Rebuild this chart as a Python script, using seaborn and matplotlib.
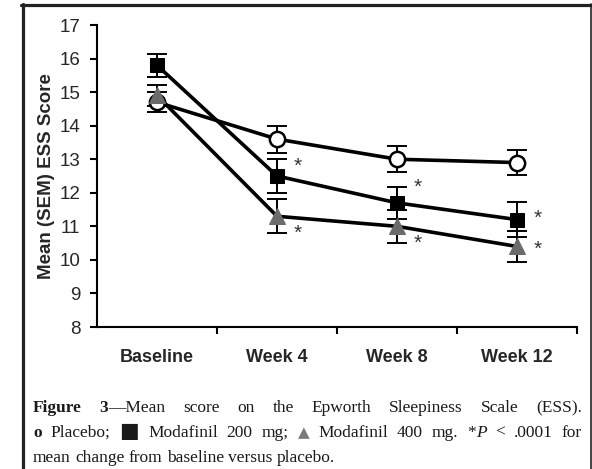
import matplotlib
matplotlib.use("Agg")
import matplotlib.pyplot as plt
import seaborn as sns
import pandas as pd
from matplotlib.lines import Line2D
from matplotlib.ticker import FixedLocator

# ---- data ----
visits = ["Baseline", "Week 4", "Week 8", "Week 12"]
placebo = [14.7, 13.6, 13.0, 12.9]
placebo_sem = [0.3, 0.4, 0.38, 0.37]
moda200 = [15.8, 12.5, 11.7, 11.2]
moda200_sem = [0.35, 0.5, 0.48, 0.52]
moda400 = [14.9, 11.3, 11.0, 10.4]
moda400_sem = [0.3, 0.5, 0.5, 0.45]
# significance stars (visits 1..3), y position of each star
star_y_200 = [12.78, 12.15, 11.25]
star_y_400 = [10.80, 10.48, 10.30]

pos = list(range(len(visits)))

sns.set_style("ticks")
plt.rcParams["font.family"] = ["Liberation Sans", "DejaVu Sans"]

fig = plt.figure(figsize=(5.92, 4.69), dpi=100)
ax = fig.add_axes([97 / 592, 1 - 327 / 469, 480 / 592, 302 / 469])

series = [
    (placebo, placebo_sem, dict(marker="o", markersize=11, markerfacecolor="white",
                                markeredgecolor="black", markeredgewidth=1.8)),
    (moda200, moda200_sem, dict(marker="s", markersize=10, markerfacecolor="black",
                                markeredgecolor="black")),
    (moda400, moda400_sem, dict(marker="^", markersize=12, markerfacecolor="#6b6b6b",
                                markeredgecolor="#6b6b6b")),
]

for vals, sem, mk in series:
    df = pd.DataFrame({"pos": pos, "score": vals})
    ax.errorbar(pos, vals, yerr=sem, fmt="none", ecolor="black", elinewidth=1.4,
                capsize=7, capthick=1.4, zorder=2)
    sns.lineplot(data=df, x="pos", y="score", ax=ax, color="black", linewidth=2.6,
                 zorder=3, **mk)

for i in range(3):
    ax.text(pos[i + 1] + 0.17, star_y_200[i], "*", fontsize=15, color="#333333",
            ha="center", va="center")
    ax.text(pos[i + 1] + 0.17, star_y_400[i], "*", fontsize=15, color="#333333",
            ha="center", va="center")

ax.set_xlim(-0.5, 3.5)
ax.set_ylim(8, 17)
ax.set_yticks(range(8, 18))
ax.set_xticks(pos)
ax.set_xticklabels(visits, fontsize=13, fontweight="bold")
ax.xaxis.set_minor_locator(FixedLocator([0.5, 1.5, 2.5, 3.5]))
ax.tick_params(axis="x", which="major", length=0, pad=16)
ax.tick_params(axis="x", which="minor", length=5, width=1.5, color="black")
ax.tick_params(axis="y", length=5, width=1.5, color="black", labelsize=13.5, pad=7)
ax.set_xlabel("")
ax.set_ylabel("Mean (SEM) ESS Score", fontsize=13.5, fontweight="bold", labelpad=3)
for s in ["left", "bottom"]:
    ax.spines[s].set_linewidth(1.5)
    ax.spines[s].set_color("black")
sns.despine(ax=ax)

# ---- frame around figure + caption ----
fc = "#222222"
fig.add_artist(Line2D([22.5 / 592] * 2, [0, 1 - 4.5 / 469], transform=fig.transFigure,
                      color=fc, linewidth=2.3))
fig.add_artist(Line2D([21 / 592, 591 / 592], [1 - 5.5 / 469] * 2, transform=fig.transFigure,
                      color=fc, linewidth=2.3))
fig.add_artist(Line2D([590.5 / 592] * 2, [0, 1 - 4.5 / 469], transform=fig.transFigure,
                      color=fc, linewidth=1.2))

serif = ["Liberation Serif", "DejaVu Serif"]
cap_size = 12.5
base = dict(fontsize=cap_size, family=serif, color="#1a1a1a", va="baseline")
bold = dict(base, fontweight="bold")
ital = dict(base, style="italic")
grey = dict(base, color="#7a7a7a", family=["DejaVu Sans"], fontsize=11)
sq = dict(base, family=["DejaVu Sans"], fontsize=15)

line1 = [[("Figure", bold)], [("3", bold), ("\u2014Mean", base)]] + \
    [[(w, base)] for w in "score on the Epworth Sleepiness Scale (ESS).".split()]
line2 = [[("o", bold)], [("Placebo;", base)], [("\u25A0", sq)], [("Modafinil", base)],
         [("200", base)], [("mg;", base)], [("\u25B2", grey)], [("Modafinil", base)],
         [("400", base)], [("mg.", base)], [("*", base), ("P", ital)], [("<", base)],
         [(".0001", base)], [("for", base)]]
line3 = [[(w, base)] for w in "mean change from baseline versus placebo.".split()]

fig.canvas.draw()
renderer = fig.canvas.get_renderer()


def seg_width(s, kw):
    t = fig.text(0, 0, s, **kw)
    w = t.get_window_extent(renderer).width
    t.remove()
    return w


def place_line(words, y_px, x0=33, x1=582, justify=True):
    widths = [[seg_width(s, kw) for s, kw in w] for w in words]
    totals = [sum(w) for w in widths]
    if justify:
        gap = (x1 - x0 - sum(totals)) / (len(words) - 1)
    else:
        gap = seg_width("a b", base) - seg_width("ab", base)
    x = x0
    for w, ws in zip(words, widths):
        for (s, kw), sw in zip(w, ws):
            fig.text(x / 592, 1 - y_px / 469, s, ha="left", **kw)
            x += sw
        x += gap


place_line(line1, 412)
place_line(line2, 437)
place_line(line3, 462, justify=False)

fig.savefig("out.png", dpi=100)
